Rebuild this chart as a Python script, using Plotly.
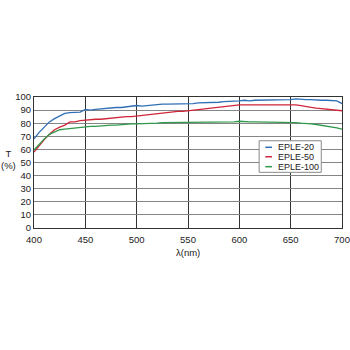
import plotly.graph_objects as go

wavelength = list(range(400, 705, 5))

eple20 = [68, 73, 77, 81, 83.5, 85.5, 87.5, 88, 88.5, 88.5,
          90.5, 90, 90.5, 91, 91.5, 91.5, 92, 92, 92.5, 93,
          93.5, 93, 93.5, 94, 94, 94.5, 94.5, 94.5, 95, 94.5,
          95, 95, 95.5, 95.5, 96, 96, 96, 96.5, 96.5, 97,
          97, 97.5, 97, 97.5, 97.5, 98, 97.5, 98, 98, 98,
          98, 98.5, 98, 98, 98, 97.5, 97.5, 97.5, 97.5, 97, 95]

eple50 = [58, 63, 67.5, 71.5, 75, 77, 78.5, 81, 81, 82,
          82.5, 82.5, 83, 83, 83.5, 84, 84, 84.5, 85, 85,
          85.5, 86, 86, 86.5, 87, 87.5, 88, 88.5, 89, 89,
          89.5, 90, 90.5, 91, 91, 91.5, 92, 92.5, 93, 93.5,
          94, 94, 94, 94.5, 94.5, 94.5, 94.5, 94.5, 94.5, 94,
          94, 94, 93.5, 92.5, 92, 91.5, 91, 91, 90.5, 90, 89.5]

eple100 = [59.5, 64, 68, 71.5, 73.5, 75, 75.5, 76, 76.5, 77,
           77.5, 77.5, 77.5, 78, 78, 78.5, 78.5, 79, 79, 79.5,
           79.5, 79.5, 80, 80, 80, 80.5, 80.5, 80.5, 80.5, 80.5,
           81, 80.5, 81, 81, 81, 81, 81, 81, 81, 81,
           81.5, 81, 81, 81, 81, 80.5, 81, 80.5, 80.5, 80.5,
           80.5, 80.5, 80, 80, 79.5, 79, 78.5, 77.5, 77, 76.5, 75.5]

series_names = ["EPLE-20", "EPLE-50", "EPLE-100"]
series_colors = ["#2f6fb6", "#d0253a", "#2f9a4c"]
x_ticks = [400, 450, 500, 550, 600, 650, 700]
y_ticks = list(range(0, 101, 10))

fig = go.Figure()
for name, vals, col in zip(series_names, [eple20, eple50, eple100], series_colors):
    fig.add_trace(go.Scatter(x=wavelength, y=vals, mode="lines", name=name,
                             line=dict(color=col, width=1.3), showlegend=False))

font = dict(family="Liberation Sans, Arial, sans-serif", size=9.5, color="#222")
lfont = dict(family="Liberation Sans, Arial, sans-serif", size=9, color="#222")

fig.update_layout(
    width=350, height=350,
    margin=dict(l=34.3, r=8.3, t=97.3, b=121.7, autoexpand=False),
    paper_bgcolor="white", plot_bgcolor="white",
    font=font,
    xaxis=dict(range=[400, 700], tickvals=x_ticks, showgrid=True, gridcolor="#333",
               gridwidth=1.2, zeroline=False, showline=True, linecolor="#333",
               linewidth=1.2, mirror=True, ticks="", tickfont=font,
               ticklabeloverflow="allow", ticklabelstandoff=2, automargin=False),
    yaxis=dict(range=[0, 100], tickvals=y_ticks, showgrid=True, gridcolor="#858585",
               gridwidth=1, zeroline=False, showline=True, linecolor="#333",
               linewidth=1.2, mirror=True, ticks="", tickfont=font,
               ticklabeloverflow="allow", automargin=False),
)

# axis titles
fig.add_annotation(text="T<br>(%)", xref="paper", yref="paper",
                   x=(9 - 34.3) / 307.4, y=(228.3 - 159.5) / 131,
                   showarrow=False, font=font, xanchor="center", yanchor="middle")
fig.add_annotation(text="λ(nm)", xref="paper", yref="paper",
                   x=0.5, y=(228.3 - 253) / 131,
                   showarrow=False, font=font, xanchor="center", yanchor="middle")

# legend box
fig.add_shape(type="rect", xref="x", yref="y", x0=619.3, x1=679.8, y0=42.5, y1=66.6,
              line=dict(color="#888", width=1), fillcolor="white", layer="above")
row_y = [61.6, 54.4, 46.8]
for name, col, yy in zip(series_names, series_colors, row_y):
    fig.add_shape(type="line", xref="x", yref="y", x0=625.3, x1=631.8, y0=yy, y1=yy,
                  line=dict(color=col, width=1.5), layer="above")
    fig.add_annotation(text=name, xref="x", yref="y", x=635.5, y=yy, showarrow=False,
                       xanchor="left", yanchor="middle", font=lfont)

fig.write_html("out.html")
